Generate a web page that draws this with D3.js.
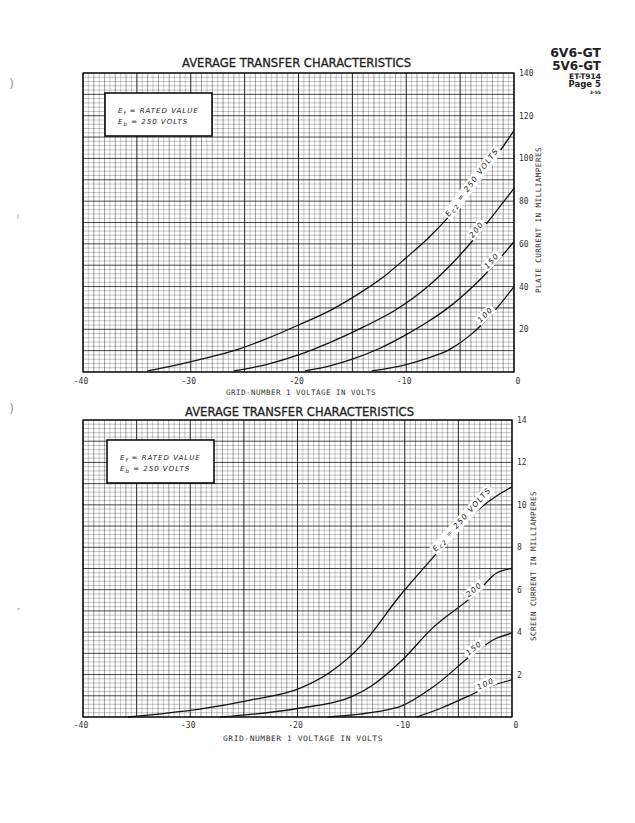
<!DOCTYPE html>
<html>
<head>
<meta charset="utf-8">
<script src="https://d3js.org/d3.v7.min.js"></script>
<style>
body { margin: 0; background: #fff; }
svg { display: block; }
.tick-lbl { font-family: 'DejaVu Sans Mono', monospace; font-size: 8px; fill: #333; }
.axis-lbl { font-family: 'DejaVu Sans Mono', monospace; font-size: 7.5px; fill: #333; letter-spacing: 0.5px; }
.title { font-family: 'DejaVu Sans', sans-serif; font-size: 12px; fill: #222; stroke: #222; stroke-width: 0.3px; }
.legend { font-family: 'DejaVu Sans', sans-serif; font-size: 7px; font-style: italic; fill: #222; letter-spacing: 1px; }
.curve-lbl { font-family: 'DejaVu Sans', sans-serif; font-size: 7.5px; font-style: italic; fill: #111; letter-spacing: 1.3px; }
.hdr { font-family: 'DejaVu Sans', sans-serif; font-weight: bold; fill: #222; }
</style>
</head>
<body>
<svg id="page" width="635" height="823"></svg>
<script>
// Values (grid voltage in volts, current in mA)
var plateXTicks = [-40, -30, -20, -10, 0];
var plateYTicks = [20, 40, 60, 80, 100, 120, 140];
var screenXTicks = [-40, -30, -20, -10, 0];
var screenYTicks = [2, 4, 6, 8, 10, 12, 14];
var screenGrids = [250, 200, 150, 100];

// plate current curves, one per screen voltage
var plate250 = [[-34, 0.5], [-32, 2.5], [-29, 6], [-26, 10], [-23, 15.5], [-20, 22], [-17, 29], [-14, 38], [-12, 45], [-10, 53.5], [-8, 62.5], [-6, 73], [-4, 85], [-2, 98.5], [0, 113]];
var plate200 = [[-26, 0.5], [-23, 3.5], [-20, 8], [-17, 14], [-14, 21], [-11, 29], [-8, 40], [-6, 49.5], [-4, 60.5], [-2, 73], [0, 86]];
var plate150 = [[-19.4, 0.5], [-17, 3], [-15, 6], [-12.5, 11], [-10, 17.5], [-8, 23.5], [-6, 30.5], [-3, 44], [0, 61]];
var plate100 = [[-13.2, 0.5], [-10, 3.5], [-8, 6.5], [-6, 10.5], [-4, 17.5], [-2, 27.5], [0, 40]];

// screen current curves
var screen250 = [[-35.8, 0], [-29, 0.38], [-24.4, 0.8], [-19.8, 1.35], [-17, 2.1], [-14, 3.4], [-10.4, 5.75], [-7.4, 7.5], [-4.2, 9.3], [-1.2, 10.5], [0, 10.85]];
var screen200 = [[-27.2, 0], [-20, 0.4], [-15, 0.95], [-13, 1.5], [-10.4, 2.6], [-7.4, 4.2], [-3.3, 5.85], [-1.4, 6.8], [0, 7.0]];
var screen150 = [[-17.2, 0], [-14, 0.15], [-12, 0.3], [-10.4, 0.5], [-7.4, 1.4], [-3.3, 3.1], [-1.5, 3.7], [0, 3.95]];
var screen100 = [[-8.9, 0], [-6.7, 0.4], [-4, 1.0], [-2.3, 1.4], [0, 1.75]];

var svg = d3.select("#page");

// header in the top right corner
var hdr = [["6V6-GT", 12.5, 57], ["5V6-GT", 12, 69.5], ["ET-T914", 7.5, 78.5], ["Page 5", 8.5, 87], ["3-55", 4.5, 93.5]];
hdr.forEach(function (h) {
  svg.append("text").attr("class", "hdr")
    .attr("x", 601).attr("y", h[2])
    .attr("text-anchor", "end")
    .style("font-size", h[1] + "px")
    .text(h[0]);
});

// punch marks and specks on the left margin
[88, 413].forEach(function (y) {
  svg.append("text").attr("x", 9).attr("y", y)
    .style("font-family", "DejaVu Sans").style("font-size", "13px").style("fill", "#999")
    .text(")");
});
svg.append("line").attr("x1", 18).attr("x2", 18).attr("y1", 214).attr("y2", 219).attr("stroke", "#bbb");
svg.append("line").attr("x1", 17).attr("x2", 20).attr("y1", 609).attr("y2", 609).attr("stroke", "#999");

function drawChart(o) {
  var x = d3.scaleLinear().domain([-40, 0]).range([o.left, o.right]);
  var y = d3.scaleLinear().domain([0, o.ymax]).range([o.bottom, o.top]);
  var g = svg.append("g");

  // graph paper
  d3.range(0, 81).forEach(function (k) {
    var v = -40 + k * 0.5;
    var major = k % 10 === 0;
    var mid = k % 2 === 0;
    g.append("line")
      .attr("x1", x(v)).attr("x2", x(v))
      .attr("y1", o.top).attr("y2", o.bottom)
      .attr("stroke", "#000")
      .attr("stroke-opacity", major ? 0.85 : (mid ? 0.6 : 0.35))
      .attr("stroke-width", major ? 1 : 0.6);
  });
  d3.range(0, 71).forEach(function (k) {
    var v = k * o.ymax / 70;
    var major = k % 5 === 0;
    g.append("line")
      .attr("x1", o.left).attr("x2", o.right)
      .attr("y1", y(v)).attr("y2", y(v))
      .attr("stroke", "#000")
      .attr("stroke-opacity", major ? 0.8 : 0.4)
      .attr("stroke-width", major ? 0.9 : 0.6);
  });
  g.append("rect")
    .attr("x", o.left).attr("y", o.top)
    .attr("width", o.right - o.left).attr("height", o.bottom - o.top)
    .attr("fill", "none").attr("stroke", "#000").attr("stroke-width", 1.2);

  // legend box
  g.append("rect")
    .attr("x", o.box[0]).attr("y", o.box[1]).attr("width", 107).attr("height", 43)
    .attr("fill", "#fff").attr("stroke", "#000").attr("stroke-width", 1.5);
  var t1 = g.append("text").attr("class", "legend").attr("x", o.box[0] + 13).attr("y", o.box[1] + 20);
  t1.append("tspan").text("E");
  t1.append("tspan").attr("dy", 2).style("font-size", "5.5px").text("f");
  t1.append("tspan").attr("dy", -2).text(" = RATED VALUE");
  var t2 = g.append("text").attr("class", "legend").attr("x", o.box[0] + 13).attr("y", o.box[1] + 31);
  t2.append("tspan").text("E");
  t2.append("tspan").attr("dy", 2).style("font-size", "5.5px").text("b");
  t2.append("tspan").attr("dy", -2).text(" = 250 VOLTS");

  // curves
  var line = d3.line()
    .x(function (d) { return x(d[0]); })
    .y(function (d) { return y(d[1]); })
    .curve(d3.curveMonotoneX);
  o.curves.forEach(function (c) {
    g.append("path").attr("d", line(c.data))
      .attr("fill", "none").attr("stroke", "#111").attr("stroke-width", 1.3);
  });

  // curve labels, set along the curve at a chosen grid voltage
  o.curves.forEach(function (c, i) {
    var d = c.data, v = c.at;
    var k = d3.bisector(function (p) { return p[0]; }).left(d, v);
    k = Math.max(1, Math.min(d.length - 1, k));
    var a = d[k - 1], b = d[k];
    var f = (v - a[0]) / (b[0] - a[0]);
    var iv = a[1] + f * (b[1] - a[1]);
    var ang = Math.atan2(y(b[1]) - y(a[1]), x(b[0]) - x(a[0])) * 180 / Math.PI;
    var lg = g.append("g").attr("transform", "translate(" + x(v) + "," + y(iv) + ") rotate(" + ang + ")");
    var txt = lg.append("text").attr("class", "curve-lbl").attr("text-anchor", "middle").attr("y", -1.5);
    if (i === 0) {
      txt.append("tspan").text("E");
      txt.append("tspan").attr("dy", 2).style("font-size", "6px").text("c2");
      txt.append("tspan").attr("dy", -2).text(" = " + screenGrids[i] + " VOLTS");
    } else {
      txt.text(screenGrids[i]);
    }
    var bb = txt.node().getBBox();
    lg.insert("rect", "text")
      .attr("x", bb.x - 1.5).attr("y", bb.y - 0.5)
      .attr("width", bb.width + 3).attr("height", bb.height + 1)
      .attr("fill", "#fff");
  });

  // tick labels
  o.xticks.forEach(function (t) {
    g.append("text").attr("class", "tick-lbl")
      .attr("x", x(t) + (t === 0 ? 4 : -2)).attr("y", o.bottom + o.tickGap)
      .attr("text-anchor", "middle").text(t === 0 ? "0" : "-" + Math.abs(t));
  });
  o.yticks.forEach(function (t) {
    g.append("text").attr("class", "tick-lbl")
      .attr("x", o.right + 5).attr("y", y(t) + 3)
      .text(t);
  });

  g.append("text").attr("class", "title")
    .attr("x", o.title[0]).attr("y", o.title[1])
    .attr("textLength", 229).attr("lengthAdjust", "spacingAndGlyphs")
    .text("AVERAGE TRANSFER CHARACTERISTICS");
  g.append("text").attr("class", "axis-lbl")
    .attr("x", o.xlab[0]).attr("y", o.xlab[1])
    .attr("textLength", o.xlab[2]).attr("lengthAdjust", "spacingAndGlyphs")
    .text("GRID-NUMBER 1 VOLTAGE IN VOLTS");
  g.append("text").attr("class", "axis-lbl")
    .attr("transform", "translate(" + o.ylab[0] + "," + o.ylab[1] + ") rotate(-90)")
    .attr("textLength", o.ylab[2]).attr("lengthAdjust", "spacingAndGlyphs")
    .text(o.ylabText);
}

drawChart({
  left: 83, right: 514, top: 73, bottom: 372, ymax: 140, tickGap: 12,
  xticks: plateXTicks, yticks: plateYTicks,
  box: [105, 93],
  title: [182, 67],
  xlab: [226, 395, 150],
  ylab: [541, 293, 146],
  ylabText: "PLATE CURRENT IN MILLIAMPERES",
  curves: [
    { data: plate250, at: -3.6 },
    { data: plate200, at: -3.2 },
    { data: plate150, at: -1.8 },
    { data: plate100, at: -2.4 }
  ]
});

drawChart({
  left: 83, right: 512, top: 420, bottom: 717, ymax: 14, tickGap: 11,
  xticks: screenXTicks, yticks: screenYTicks,
  box: [107, 440],
  title: [185, 416],
  xlab: [223, 741, 160],
  ylab: [536, 641, 150],
  ylabText: "SCREEN CURRENT IN MILLIAMPERES",
  curves: [
    { data: screen250, at: -4.4 },
    { data: screen200, at: -3.3 },
    { data: screen150, at: -3.3 },
    { data: screen100, at: -2.3 }
  ]
});
</script>
</body>
</html>
